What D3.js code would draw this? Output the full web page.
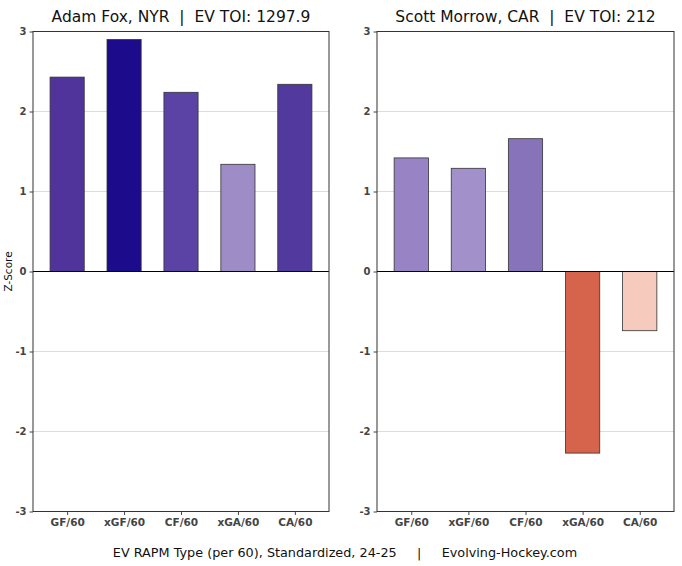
<!DOCTYPE html>
<html><head><meta charset="utf-8">
<script src="https://cdn.jsdelivr.net/npm/d3@7"></script>
<style>body{margin:0;background:#fff;} text{font-family:"DejaVu Sans",sans-serif;}</style>
</head><body>
<svg id="c" width="682" height="566"></svg>
<script>
const categories = ["GF/60","xGF/60","CF/60","xGA/60","CA/60"];
const titles = ["Adam Fox, NYR  |  EV TOI: 1297.9", "Scott Morrow, CAR  |  EV TOI: 212"];
const foxValues = [2.43, 2.90, 2.24, 1.34, 2.34];
const morrowValues = [1.42, 1.29, 1.66, -2.27, -0.74];
const foxColors = ["#50349b","#1c0b8b","#5a43a5","#9e8cc7","#52399e"];
const morrowColors = ["#9884c4","#a190c9","#8773ba","#d6634b","#f6cabd"];
const yTicks = [-3,-2,-1,0,1,2,3];
const caption = "EV RAPM Type (per 60), Standardized, 24-25     |     Evolving-Hockey.com";

(function(){
const svg = d3.select("#c");
const panels = [
  {title: titles[0], values: foxValues, colors: foxColors, x0: 33, x1: 329},
  {title: titles[1], values: morrowValues, colors: morrowColors, x0: 377, x1: 674}
];
const plotTop = 31.5, plotBottom = 511.5;
const y = d3.scaleLinear().domain([-3,3]).range([plotBottom, plotTop]);

panels.forEach(p => {
  const g = svg.append("g");
  const x = d3.scaleLinear().domain([-0.6, 4.6]).range([p.x0, p.x1]);
  g.selectAll("line.grid").data(yTicks).enter().append("line")
    .attr("x1", p.x0).attr("x2", p.x1)
    .attr("y1", d => y(d)).attr("y2", d => y(d))
    .attr("stroke", "#dcdcdc").attr("stroke-width", 1);
  g.selectAll("rect.bar").data(p.values).enter().append("rect")
    .attr("x", (d,i) => x(i - 0.3))
    .attr("width", (d,i) => x(i + 0.3) - x(i - 0.3))
    .attr("y", d => y(Math.max(0, d)))
    .attr("height", d => Math.abs(y(d) - y(0)))
    .attr("fill", (d,i) => p.colors[i])
    .attr("stroke", "#333").attr("stroke-width", 0.8);
  g.append("line").attr("x1", p.x0).attr("x2", p.x1)
    .attr("y1", y(0)).attr("y2", y(0)).attr("stroke", "#000").attr("stroke-width", 1);
  const ya = d3.axisLeft(y).tickValues(yTicks).tickSize(3.5).tickPadding(3).tickFormat(d3.format("d"));
  const yg = g.append("g").attr("transform", `translate(${p.x0},0)`).call(ya);
  yg.select(".domain").remove();
  yg.selectAll("text").attr("font-size", 10).attr("font-weight", "bold").attr("fill", "#444")
    .text(d => d < 0 ? "-" + Math.abs(d) : d);
  yg.selectAll("line").attr("stroke", "#444");
  const xa = d3.axisBottom(x).tickValues([0,1,2,3,4]).tickSize(3.5).tickPadding(4).tickFormat(i => categories[i]);
  const xg = g.append("g").attr("transform", `translate(0,${plotBottom})`).call(xa);
  xg.select(".domain").remove();
  xg.selectAll("text").attr("font-size", 10.5).attr("font-weight", "bold").attr("fill", "#444");
  xg.selectAll("line").attr("stroke", "#444");
  g.append("rect").attr("x", p.x0).attr("y", plotTop).attr("width", p.x1 - p.x0).attr("height", plotBottom - plotTop)
    .attr("fill", "none").attr("stroke", "#333").attr("stroke-width", 1);
  g.append("text").attr("x", (p.x0 + p.x1) / 2).attr("y", 22).attr("text-anchor", "middle")
    .attr("font-size", 15.5).attr("fill", "#111").style("white-space", "pre").text(p.title);
});

svg.append("text").attr("transform", `translate(12,${y(0)}) rotate(-90)`).attr("text-anchor", "middle")
  .attr("font-size", 10.5).attr("fill", "#111").text("Z-Score");
svg.append("text").attr("x", 345).attr("y", 557).attr("text-anchor", "middle")
  .attr("font-size", 12.8).attr("fill", "#111").style("white-space", "pre").text(caption);
})();
</script>
</body></html>
